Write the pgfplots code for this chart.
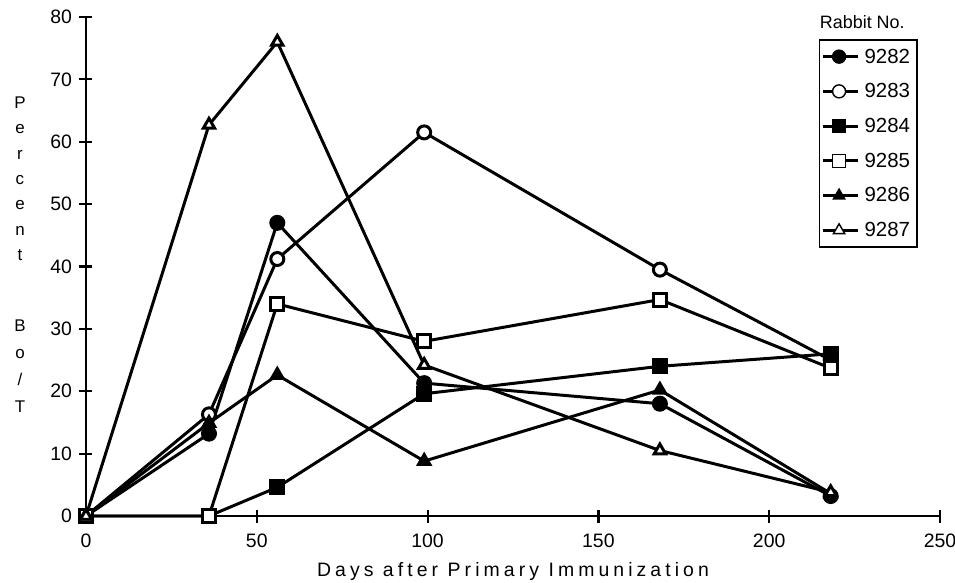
\documentclass[border=0pt]{standalone}
\usepackage{fontspec}
\setmainfont{Liberation Sans}
\usepackage{pgfplots}
\pgfplotsset{compat=1.18}
\begin{document}
\begin{tikzpicture}
\begin{axis}[
  scale only axis, width=854bp, height=499bp,
  xmin=0, xmax=250, ymin=0, ymax=80,
  axis x line=bottom, axis y line=left,
  axis line style={line width=2.4pt, -},
  xtick={0,50,...,250}, ytick={0,10,...,80},
  tick align=center, major tick length=13bp,
  tick style={black, line width=2.2pt},
  /pgf/number format/assume math mode=true,
  tick label style={font=\fontsize{19.5}{22}\selectfont},
  xticklabel style={yshift=-8bp},
  yticklabel style={xshift=-4bp},
  xlabel={Days after Primary Immunization},
  xlabel style={at={(axis description cs:0.5,0)}, anchor=center, yshift=-55bp,
    font=\fontsize{19.5}{22}\selectfont\addfontfeatures{LetterSpace=21}},
  clip=false,
  every axis plot/.append style={line width=3pt, black, mark size=6.5bp, mark options={line width=2pt, solid}},
  legend style={at={(rel axis cs:0.974,0.956)}, anchor=north east, draw=black, line width=1.6pt,
    font=\fontsize{20.5}{22}\selectfont, row sep=15bp, inner xsep=2bp, inner ysep=7bp,
    nodes={inner xsep=5bp}},
  legend cell align=left,
  legend image code/.code={\path (-5bp,0) -- (30bp,0); \draw[mark repeat=2,mark phase=2,line width=1.4pt] plot coordinates {(0bp,0bp) (11bp,0bp) (22bp,0bp)};},
]
\addplot[mark=*, mark options={fill=black}] coordinates {(0,0) (36,13.2) (56,47) (99,21.3) (168,18) (218,3.2)};
\addlegendentry{9282}
\addplot[mark=*, mark options={fill=white}] coordinates {(0,0) (36,16.3) (56,41.2) (99,61.5) (168,39.5) (218,25)};
\addlegendentry{9283}
\addplot[mark=square*, mark options={fill=black}] coordinates {(0,0) (36,0) (56,4.6) (99,19.6) (168,24) (218,26)};
\addlegendentry{9284}
\addplot[mark=square*, mark options={fill=white}] coordinates {(0,0) (36,0) (56,34) (99,28) (168,34.7) (218,23.7)};
\addlegendentry{9285}
\addplot[mark=triangle*, mark options={fill=black}] coordinates {(0,0) (36,14.9) (56,22.6) (99,8.8) (168,20.2) (218,3.6)};
\addlegendentry{9286}
\addplot[mark=triangle*, mark options={fill=white}] coordinates {(0,0) (36,62.7) (56,76) (99,24.2) (168,10.5) (218,3.8)};
\addlegendentry{9287}
\coordinate (O) at (rel axis cs:0,0);
\node[font=\fontsize{18}{22}\selectfont] at (rel axis cs:0.909,0.99) {Rabbit No.};
\node[align=center, font=\fontsize{17}{25.5}\selectfont] at (rel axis cs:-0.0773,0.676) {P\\e\\r\\c\\e\\n\\t};
\node[align=center, font=\fontsize{17}{27}\selectfont] at (rel axis cs:-0.0773,0.3006) {B\\o\\/\\T};
\end{axis}
\pgfresetboundingbox
\path ([shift={(-86bp,-67bp)}]O) rectangle ([shift={(869bp,516bp)}]O);
\end{tikzpicture}
\end{document}
